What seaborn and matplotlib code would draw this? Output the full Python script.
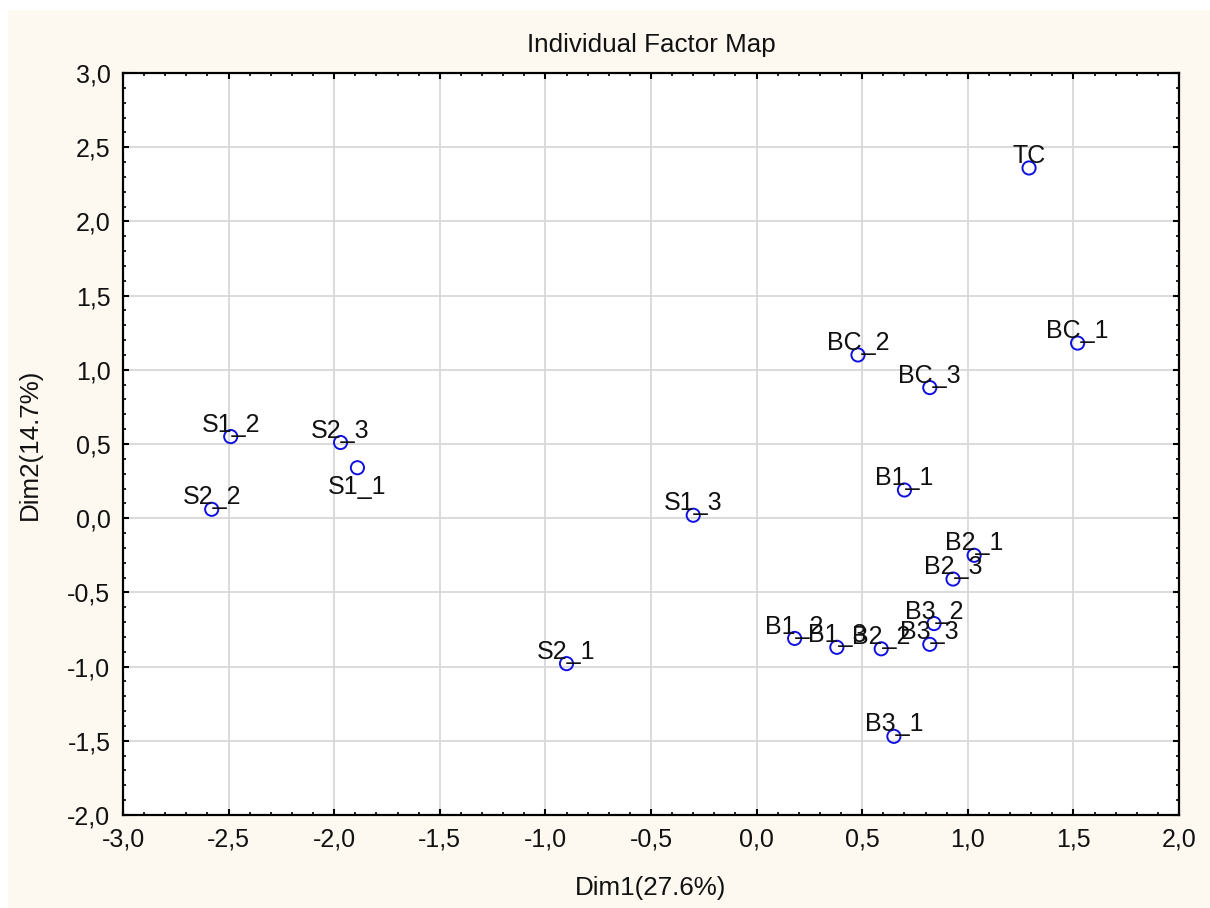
import matplotlib
matplotlib.use("Agg")
import matplotlib.pyplot as plt
import seaborn as sns
import pandas as pd
from matplotlib.ticker import MultipleLocator, FuncFormatter
from matplotlib.patches import Rectangle

labels = ["TC", "BC_1", "BC_2", "BC_3", "B1_1", "B2_1", "B2_3", "B3_2", "B3_3",
          "B1_2", "B1_3", "B2_2", "B3_1", "S1_3", "S2_1", "S1_2", "S2_3", "S1_1", "S2_2"]
dim1 = [1.29, 1.52, 0.48, 0.82, 0.70, 1.03, 0.93, 0.84, 0.82,
        0.18, 0.38, 0.59, 0.65, -0.30, -0.90, -2.49, -1.97, -1.89, -2.58]
dim2 = [2.36, 1.18, 1.10, 0.88, 0.19, -0.25, -0.41, -0.71, -0.85,
        -0.81, -0.87, -0.88, -1.47, 0.02, -0.98, 0.55, 0.51, 0.34, 0.06]
below = ["S1_1"]

df = pd.DataFrame({"Dim1": dim1, "Dim2": dim2, "label": labels})

sns.set_theme(style="white")
plt.rcParams["font.family"] = ["Liberation Sans", "DejaVu Sans"]

bg = "#FDF9F0"
fig = plt.figure(figsize=(12.1, 9.08), dpi=100, facecolor=bg)
fig.patches.append(Rectangle((0, 0.989), 1, 0.011, transform=fig.transFigure,
                             facecolor="white", edgecolor="none", zorder=0))
fig.patches.append(Rectangle((0, 0), 0.0066, 1, transform=fig.transFigure,
                             facecolor="white", edgecolor="none", zorder=0))
ax = fig.add_axes([123 / 1210, 1 - 815 / 908, (1179 - 123) / 1210, (815 - 73) / 908])
ax.set_facecolor("white")

sns.scatterplot(data=df, x="Dim1", y="Dim2", ax=ax, marker="o", s=90,
                facecolor="none", edgecolor="#1010E0", linewidth=1.4, zorder=3)

for lab, x, y in zip(labels, dim1, dim2):
    if lab in below:
        ax.annotate(lab, (x, y), xytext=(0, -5), textcoords="offset points",
                    ha="center", va="top", fontsize=18, color="#111111", zorder=4)
    else:
        ax.annotate(lab, (x, y), xytext=(0, 3.5), textcoords="offset points",
                    ha="center", va="baseline", fontsize=18, color="#111111", zorder=4)

ax.set_xlim(-3.0, 2.0)
ax.set_ylim(-2.0, 3.0)
ax.xaxis.set_major_locator(MultipleLocator(0.5))
ax.yaxis.set_major_locator(MultipleLocator(0.5))
ax.xaxis.set_minor_locator(MultipleLocator(0.1))
ax.yaxis.set_minor_locator(MultipleLocator(0.1))
fmt = FuncFormatter(lambda v, p: f"{v:.1f}".replace(".", ","))
ax.xaxis.set_major_formatter(fmt)
ax.yaxis.set_major_formatter(fmt)

ax.grid(True, which="major", color="#D8D8D8", linewidth=1.3)
ax.set_axisbelow(True)
for s in ax.spines.values():
    s.set_visible(True)
    s.set_color("black")
    s.set_linewidth(1.6)

ax.tick_params(which="both", direction="in", top=True, right=True, bottom=True, left=True,
               color="black")
ax.tick_params(which="major", length=4.5, width=1.5, labelsize=18, pad=9, labelcolor="#111111")
ax.tick_params(which="minor", length=2.5, width=1.2)

ax.set_title("Individual Factor Map", fontsize=18.7, pad=15, color="#111111")
ax.set_xlabel("Dim1(27.6%)", fontsize=18.7, labelpad=18, color="#111111")
ax.set_ylabel("Dim2(14.7%)", fontsize=18.7, labelpad=18, color="#111111")

fig.savefig("out.png", dpi=100, facecolor=bg)
